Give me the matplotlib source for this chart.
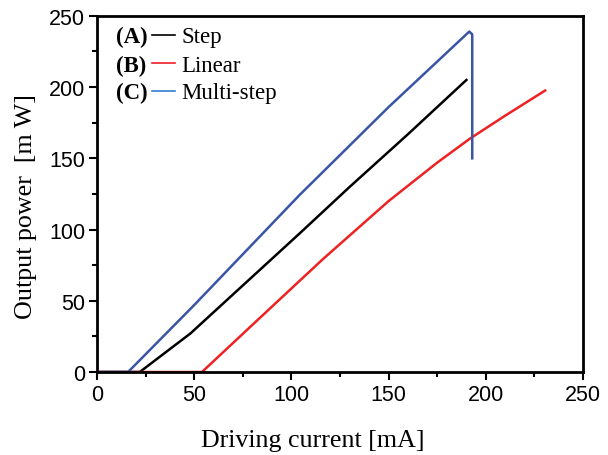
import matplotlib
matplotlib.use("Agg")
import matplotlib.pyplot as plt

# Step (black)
step_i = [0, 22, 48, 56, 80, 104, 130, 160, 190]
step_p = [0, 0, 27, 37, 67, 97, 130, 167, 205]
# Linear (red)
lin_i = [0, 54, 83, 116, 150, 175, 192, 210, 230.5]
lin_p = [0, 0, 37, 79, 120, 147, 164, 180, 197.6]
# Multi-step (blue), ends with the drop at ~193 mA
multi_i = [0, 16, 50, 104, 150, 191.5, 193, 193]
multi_p = [0, 0, 47, 124, 186, 239, 237, 150]

legend_keys = ["(A)", "(B)", "(C)"]
legend_names = ["Step", "Linear", "Multi-step"]

SERIF = ["Liberation Serif", "DejaVu Serif"]
SANS = ["Liberation Sans", "DejaVu Sans"]

fig = plt.figure(figsize=(6.08, 4.56), dpi=100)
ax = fig.add_axes([0.1595, 0.182, 0.7995, 0.781])

ax.plot(step_i, step_p, color="black", lw=1.8)
ax.plot(lin_i, lin_p, color="#ee2222", lw=1.8)
ax.plot(multi_i, multi_p, color="#3a55a6", lw=1.8)

ax.set_xlim(0, 250)
ax.set_ylim(0, 250)
ax.set_xticks(range(0, 251, 50))
ax.set_yticks(range(0, 251, 50))
ax.set_xticks(range(25, 251, 50), minor=True)
ax.set_yticks(range(25, 251, 50), minor=True)
ax.tick_params(which="major", direction="out", length=5.5, width=1.5,
               labelsize=15.5, pad=3)
ax.tick_params(which="minor", direction="out", length=3.5, width=1.5)
ax.tick_params(top=False, right=False, which="both")
for lab in ax.get_xticklabels() + ax.get_yticklabels():
    lab.set_family(SANS)
for s in ax.spines.values():
    s.set_linewidth(2.0)

ax.set_xlabel("Driving current [mA]", family=SERIF, fontsize=18.7)
ax.set_ylabel("Output power  [m W]", family=SERIF, fontsize=18.7)
ax.xaxis.set_label_coords(0.444, -0.160)
ax.yaxis.set_label_coords(-0.123, 0.466)

# hand-made legend in the upper left
line_colors = ["black", "#ee1c24", "#2f7fd0"]
base_y = [0.926, 0.846, 0.769]
for key, name, c, y in zip(legend_keys, legend_names, line_colors, base_y):
    ax.text(0.039, y, key, transform=ax.transAxes, family=SERIF,
            fontweight="bold", fontsize=16.5, va="baseline")
    ax.plot([0.114, 0.160], [y + 0.021, y + 0.021], transform=ax.transAxes,
            color=c, lw=1.2)
    ax.text(0.174, y, name, transform=ax.transAxes, family=SERIF,
            fontsize=16.5, va="baseline")

fig.savefig("out.png", dpi=100)
